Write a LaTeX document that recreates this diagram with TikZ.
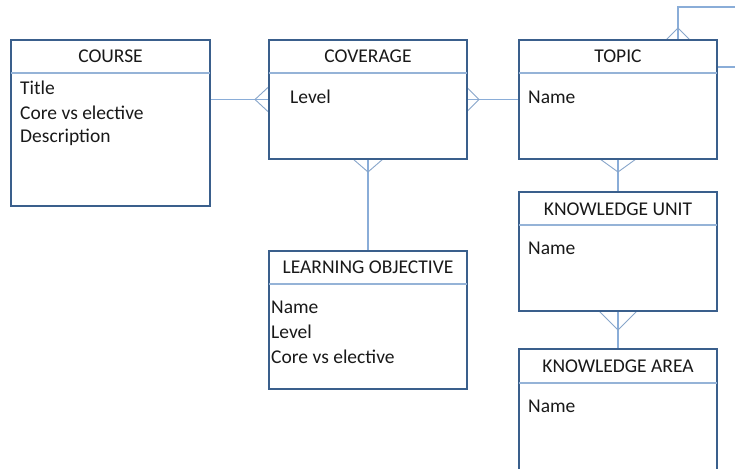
\documentclass[tikz,border=0pt]{standalone}
\usepackage{fontspec}
\setmainfont{Carlito}
\definecolor{bordc}{HTML}{3A5F8C}
\definecolor{hdrc}{HTML}{95B3D7}
\definecolor{connc}{HTML}{8AADD8}
\begin{document}
\begin{tikzpicture}[x=1pt,y=-1pt,
  entity/.style={draw=bordc,line width=2.4pt,fill=white,anchor=north west,inner sep=0pt,outer sep=0pt,minimum width=#1},
  hdrline/.style={draw=hdrc,line width=1.2pt},
  conn/.style={draw=connc,line width=1.3pt},
  crow/.style={draw=connc!85!gray,line width=0.9pt},
  title/.style={anchor=base,font=\fontsize{19.5}{21}\selectfont,text=black!90,inner sep=0pt},
  attr/.style={anchor=base west,font=\fontsize{19.5}{21}\selectfont,text=black!90,inner sep=0pt}]
\clip (0,0) rectangle (735,468);
\fill[white] (0,0) rectangle (735,468);

\node[entity=199pt,minimum height=166pt] (course) at (11,40) {};
\node[entity=198pt,minimum height=119pt] (cov) at (269,40) {};
\node[entity=198pt,minimum height=119pt] (topic) at (519,40) {};
\node[entity=198pt,minimum height=119pt] (ku) at (519,192) {};
\node[entity=198pt,minimum height=130pt] (ka) at (519,349) {};
\node[entity=198pt,minimum height=138pt] (lo) at (269,251) {};

\coordinate (loopTop) at (678,7);
\coordinate (loopEndA) at (740,7);
\coordinate (loopEndB) at (740,67);
\coordinate (topicTop) at (678,40);
\coordinate (topicRight) at (717,67);

\draw[conn] (course.east |- cov.west) -- (cov.west);
\draw[conn] (cov.east) -- (topic.west);
\draw[conn] (cov.south) -- (lo.north);
\draw[conn] (topic.south) -- (ku.north);
\draw[conn] (ku.south) -- (ka.north);
\draw[conn] (topicTop) -- (loopTop) -- (loopEndA);
\draw[conn] (topicRight) -- (loopEndB);

% crow's feet
\draw[crow] ([yshift=-13pt]cov.west) -- ([xshift=-14pt]cov.west) -- ([yshift=13pt]cov.west);
\draw[crow] ([yshift=-12pt]cov.east) -- ([xshift=12pt]cov.east) -- ([yshift=12pt]cov.east);
\draw[crow] ([xshift=-15pt]cov.south) -- ([yshift=-13pt]cov.south) -- ([xshift=15pt]cov.south);
\draw[crow] ([xshift=-18pt]topic.south) -- ([yshift=-13pt]topic.south) -- ([xshift=18pt]topic.south);
\draw[crow] ([xshift=-19pt]ku.south) -- ([yshift=-19pt]ku.south) -- ([xshift=19pt]ku.south);
\draw[crow] ([xshift=-12pt]topicTop) -- ([yshift=12pt]topicTop) -- ([xshift=12pt]topicTop);

% borders on top
\foreach \n in {course,cov,topic,ku,ka,lo}{
  \draw[bordc,line width=2.4pt] (\n.north west) rectangle (\n.south east);
}

% header lines
\draw[hdrline] ([yshift=-33pt]course.north west) -- ([yshift=-33pt]course.north east);
\draw[hdrline] ([yshift=-33pt]cov.north west) -- ([yshift=-33pt]cov.north east);
\draw[hdrline] ([yshift=-33pt]topic.north west) -- ([yshift=-33pt]topic.north east);
\draw[hdrline] ([yshift=-33pt]ku.north west) -- ([yshift=-33pt]ku.north east);
\draw[hdrline] ([yshift=-34pt]ka.north west) -- ([yshift=-34pt]ka.north east);
\draw[hdrline] ([yshift=-33pt]lo.north west) -- ([yshift=-33pt]lo.north east);

% titles
\node[title] (tcourse) at (110.5,63) {COURSE};
\node[title] (tcov) at (368,63) {COVERAGE};
\node[title] (ttopic) at (618,63) {TOPIC};
\node[title] (tku) at (618,215) {KNOWLEDGE UNIT};
\node[title] (tka) at (618,372) {KNOWLEDGE AREA};
\node[title] (tlo) at (368,273) {LEARNING OBJECTIVE};

% attributes
\node[attr] (a1) at (20,95) {Title};
\node[attr] (a2) at (20,119) {Core vs elective};
\node[attr] (a3) at (20,142.5) {Description};
\node[attr] (a4) at (290,103) {Level};
\node[attr] (a5) at (528,103) {Name};
\node[attr] (a6) at (528,254) {Name};
\node[attr] (a7) at (528,412) {Name};
\node[attr] (a8) at (271,313) {Name};
\node[attr] (a9) at (271,338) {Level};
\node[attr] (a10) at (271,363) {Core vs elective};
\end{tikzpicture}
\end{document}
